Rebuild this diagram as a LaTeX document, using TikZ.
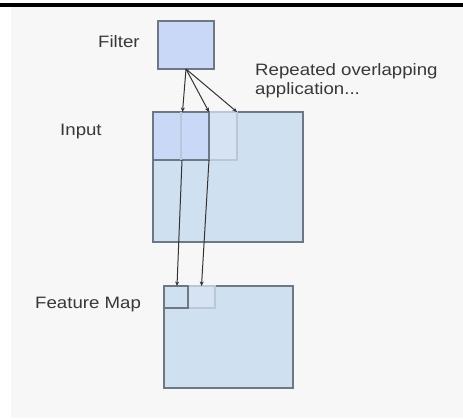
\documentclass[tikz,border=0pt]{standalone}
\usepackage{fontspec}
\setmainfont{Liberation Sans}[FakeStretch=1.13]
\usepackage{xcolor}
\usetikzlibrary{arrows.meta,positioning}
\definecolor{bggrey}{HTML}{F7F7F7}
\definecolor{labelgrey}{HTML}{383838}
\definecolor{boxedge}{HTML}{6E7884}
\definecolor{faintedge}{HTML}{B9C8D9}
\definecolor{inputblue}{HTML}{CFE0F1}
\definecolor{filterblue}{HTML}{C8D8F6}
\definecolor{winlight}{HTML}{D6E3F2}
\tikzstyle{box}=[draw=boxedge, line width=1.1pt, fill=inputblue, inner sep=0pt, outer sep=0pt, anchor=north west]
\tikzstyle{faintbox}=[box, draw=faintedge, fill=winlight]
\tikzstyle{lbl}=[text=labelgrey, font=\fontsize{16.5}{19}\selectfont, inner sep=0pt, anchor=base west]
\tikzstyle{conn}=[->, draw=black!80, line width=1pt]

\begin{document}
\begin{tikzpicture}[x=1pt, y=-1pt, >={Stealth[length=4.5pt,width=4pt]}]

\useasboundingbox (0,0) rectangle (463,419);
\fill[bggrey] (11,7) rectangle (463,418);
\fill[black] (0,3.5) rectangle (463,7);

% filter
\node[box, fill=filterblue, minimum width=56pt, minimum height=48pt] (filter) at (158,21) {};
\node[lbl] (filterlbl) at (98,48) {Filter};

% input with the windows
\node[box, minimum width=150pt, minimum height=130pt] (input) at (153,112) {};
\node[faintbox, minimum width=56pt, minimum height=48pt] (win2) at (181,112) {};
\node[box, fill=filterblue, minimum width=56pt, minimum height=48pt] (win1) at (153,112) {};
\draw[faintedge, line width=1.1pt] (win2.north west) -- (win2.south west);
\coordinate (win3) at (237,112);
\node[lbl] (inputlbl) at (60,136) {Input};

\node[lbl, align=left, anchor=north west] (repeatlbl) at (255,63.5) {Repeated overlapping\\application...};

% feature map
\node[box, minimum width=129pt, minimum height=102pt] (fmap) at (164,286) {};
\node[faintbox, minimum width=27pt, minimum height=22pt] (cell2) at (188,286) {};
\node[box, minimum width=24pt, minimum height=22pt] (cell1) at (164,286) {};
\node[lbl] (fmaplbl) at (35,309) {Feature Map};

% connectors
\draw[conn] (filter.south) -- ([xshift=1.5pt]win1.north);
\draw[conn] (filter.south) -- (win2.north);
\draw[conn] (filter.south) -- (win3);
\draw[conn] ([xshift=1pt]win1.south) -- ([xshift=1pt]cell1.north);
\draw[conn] (win1.south east) -- (cell2.north);

\end{tikzpicture}
\end{document}
